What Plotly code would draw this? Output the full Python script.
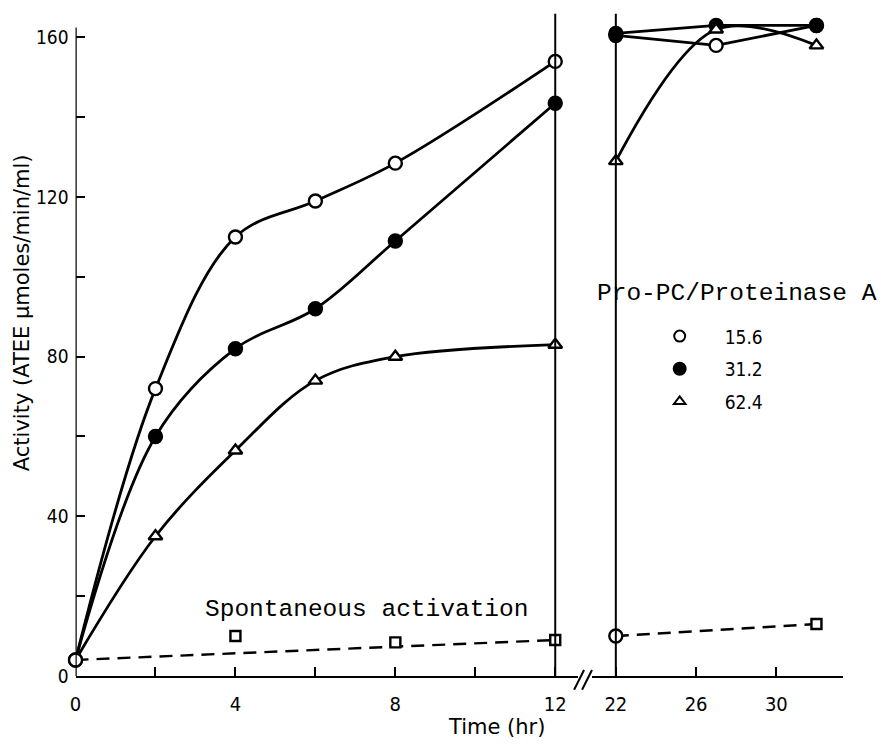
import plotly.graph_objects as go

# Time points (hr) and activities (ATEE umoles/min/ml), first period 0-12 hr
t_early = [0, 2, 4, 6, 8, 12]
act_15_6_early = [4, 72, 110, 119, 128.5, 154]
act_31_2_early = [4, 60, 82, 92, 109, 143.5]
act_62_4_early = [4, 35, 56.5, 74, 80, 83]

# Second period 22-32 hr
t_late = [22, 27, 32]
act_15_6_late = [160.5, 158, 163]
act_31_2_late = [161, 163, 163]
act_62_4_late = [129, 162, 158]

# Spontaneous activation (no proteinase A)
t_spont_early = [0, 4, 8, 12]
act_spont_early = [4, 10, 8.4, 9]
t_spont_late = [22, 32]
act_spont_late = [10, 13]

ratio_labels = ["15.6", "31.2", "62.4"]

x_ticks_early = [0, 2, 4, 6, 8, 10, 12]
x_ticktext_early = ["0", "", "4", "", "8", "", "12"]
x_ticks_late = [22, 26, 30]
y_ticks = [0, 20, 40, 60, 80, 100, 120, 140, 160]
y_ticktext = ["0", "", "40", "", "80", "", "120", "", "160"]

W, H = 883, 748
BLACK = "black"
NUM_FONT = "DejaVu Sans Condensed, DejaVu Sans, sans-serif"
LABEL_FONT = "DejaVu Sans, sans-serif"
TYPE_FONT = "Liberation Mono, Courier New, monospace"
LW = 2.8


def px_x(p):
    return p / W


def px_y(p):
    return 1 - p / H


fig = go.Figure()

symbols = ["circle", "circle", "triangle-up"]
fills = ["white", BLACK, "white"]
sizes = [13, 13, 12]
early = [act_15_6_early, act_31_2_early, act_62_4_early]
late = [act_15_6_late, act_31_2_late, act_62_4_late]
late_shapes = ["linear", "linear", "spline"]

for i in range(3):
    # the shared starting point at t=0 is drawn once, as an open circle
    msize = [sizes[i]] * len(t_early)
    if i > 0:
        msize[0] = 0
    fig.add_trace(go.Scatter(
        x=t_early, y=early[i], xaxis="x", yaxis="y", mode="lines+markers",
        line=dict(color=BLACK, width=LW, shape="spline", smoothing=1.0),
        marker=dict(symbol=symbols[i], size=msize, color=fills[i], opacity=1,
                    line=dict(color=BLACK, width=2.4)),
        showlegend=False, cliponaxis=False))
    fig.add_trace(go.Scatter(
        x=t_late, y=late[i], xaxis="x2", yaxis="y", mode="lines+markers",
        line=dict(color=BLACK, width=LW, shape=late_shapes[i], smoothing=1.0),
        marker=dict(symbol=symbols[i], size=sizes[i], color=fills[i], opacity=1,
                    line=dict(color=BLACK, width=2.4)),
        showlegend=False, cliponaxis=False))

# Spontaneous activation: dashed baseline between the end points of each period
for tt, vv, ax in ((t_spont_early, act_spont_early, "x"), (t_spont_late, act_spont_late, "x2")):
    fig.add_trace(go.Scatter(
        x=[tt[0], tt[-1]], y=[vv[0], vv[-1]], xaxis=ax, yaxis="y", mode="lines",
        line=dict(color=BLACK, width=2.4, dash="13px,8px"),
        showlegend=False, hoverinfo="skip"))
fig.add_trace(go.Scatter(
    x=t_spont_early[1:], y=act_spont_early[1:], xaxis="x", yaxis="y", mode="markers",
    marker=dict(symbol="square", size=10, color="white", opacity=1,
                line=dict(color=BLACK, width=2.4)),
    showlegend=False, cliponaxis=False))
fig.add_trace(go.Scatter(
    x=t_spont_late, y=act_spont_late, xaxis="x2", yaxis="y", mode="markers",
    marker=dict(symbol=["circle", "square"], size=[13, 10], color="white", opacity=1,
                line=dict(color=BLACK, width=2.4)),
    showlegend=False, cliponaxis=False))
# Common starting point redrawn on top
fig.add_trace(go.Scatter(
    x=t_early[:1], y=act_15_6_early[:1], xaxis="x", yaxis="y", mode="markers",
    marker=dict(symbol="circle", size=13, color="white", opacity=1,
                line=dict(color=BLACK, width=2.4)),
    showlegend=False, cliponaxis=False))

# Legend keys (markers only)
for i in range(3):
    fig.add_trace(go.Scatter(
        x=[None], y=[None], mode="markers", name=ratio_labels[i], legendgroup=ratio_labels[i],
        marker=dict(symbol=symbols[i], size=[11, 12, 10][i], color=fills[i], opacity=1,
                    line=dict(color=BLACK, width=2))))

Y_TOP = 166
y_bottom_px = 686
y_top_px = y_bottom_px - Y_TOP * 4.05
X1_L, X1_R = 70, 576
X2_L, X2_R = 590, 843

axis_common = dict(showgrid=False, zeroline=False, showline=True, linecolor=BLACK,
                   linewidth=2.4, ticks="inside", ticklen=9, tickwidth=2, tickcolor=BLACK)
x_font = dict(family=NUM_FONT, size=20, color=BLACK)
y_font = dict(family=NUM_FONT, size=19, color=BLACK)

fig.update_layout(
    width=W, height=H, margin=dict(l=0, r=0, t=0, b=0),
    paper_bgcolor="white", plot_bgcolor="white",
    xaxis=dict(domain=[px_x(X1_L), px_x(X1_R)], range=[0, (X1_R - X1_L) / 40.25],
               tickmode="array", tickvals=x_ticks_early, ticktext=x_ticktext_early,
               anchor="y", tickfont=x_font, ticklabelstandoff=9, **axis_common),
    xaxis2=dict(domain=[px_x(X2_L), px_x(X2_R)],
                range=[22 - (614 - X2_L) / 20.2, 22 + (X2_R - 614) / 20.2],
                tickmode="array", tickvals=x_ticks_late, anchor="y", tickfont=x_font,
                ticklabelstandoff=9, **axis_common),
    yaxis=dict(domain=[px_y(y_bottom_px), px_y(y_top_px)], range=[0, Y_TOP],
               tickmode="array", tickvals=y_ticks, ticktext=y_ticktext, anchor="x",
               tickfont=y_font, ticklabelstandoff=6,
               **{**axis_common, "showline": False}),
    showlegend=True,
    legend=dict(x=px_x(633), y=px_y(322), xanchor="left", yanchor="top",
                bgcolor="rgba(0,0,0,0)", tracegroupgap=5, itemwidth=80,
                font=dict(family=NUM_FONT, size=19, color=BLACK)),
)

# y axis spine, and the two vertical reference lines at 12 hr and 22 hr
fig.add_shape(type="line", xref="x", yref="y", x0=0, x1=0, y0=0, y1=162.5,
              line=dict(color=BLACK, width=2.4))
fig.add_shape(type="line", xref="x", yref="y", x0=12, x1=12, y0=0, y1=Y_TOP,
              line=dict(color=BLACK, width=2))
fig.add_shape(type="line", xref="x2", yref="y", x0=22, x1=22, y0=0, y1=Y_TOP,
              line=dict(color=BLACK, width=2))

# axis break marks
for x0 in (572, 580):
    fig.add_shape(type="line", xref="paper", yref="paper",
                  x0=px_x(x0), x1=px_x(x0 + 10), y0=px_y(700), y1=px_y(680),
                  line=dict(color=BLACK, width=2))

fig.add_annotation(text="Activity (ATEE \u03bcmoles/min/ml)", textangle=-90,
                   xref="paper", yref="paper", x=px_x(16), y=px_y(317),
                   xanchor="center", yanchor="middle", showarrow=False,
                   font=dict(family=LABEL_FONT, size=21, color=BLACK))
fig.add_annotation(text="Time (hr)", xref="paper", yref="paper", x=px_x(494), y=0,
                   xanchor="center", yanchor="bottom", yshift=-4, showarrow=False,
                   font=dict(family=LABEL_FONT, size=21, color=BLACK))
fig.add_annotation(text="Spontaneous activation", xref="paper", yref="paper",
                   x=px_x(198), y=px_y(619), xanchor="left", yanchor="middle",
                   showarrow=False, font=dict(family=TYPE_FONT, size=24.5, color=BLACK))
fig.add_annotation(text="Pro-PC/Proteinase A", xref="paper", yref="paper",
                   x=px_x(593), y=px_y(298), xanchor="left", yanchor="middle",
                   showarrow=False, font=dict(family=TYPE_FONT, size=24.5, color=BLACK))

fig.write_html("out.html")
